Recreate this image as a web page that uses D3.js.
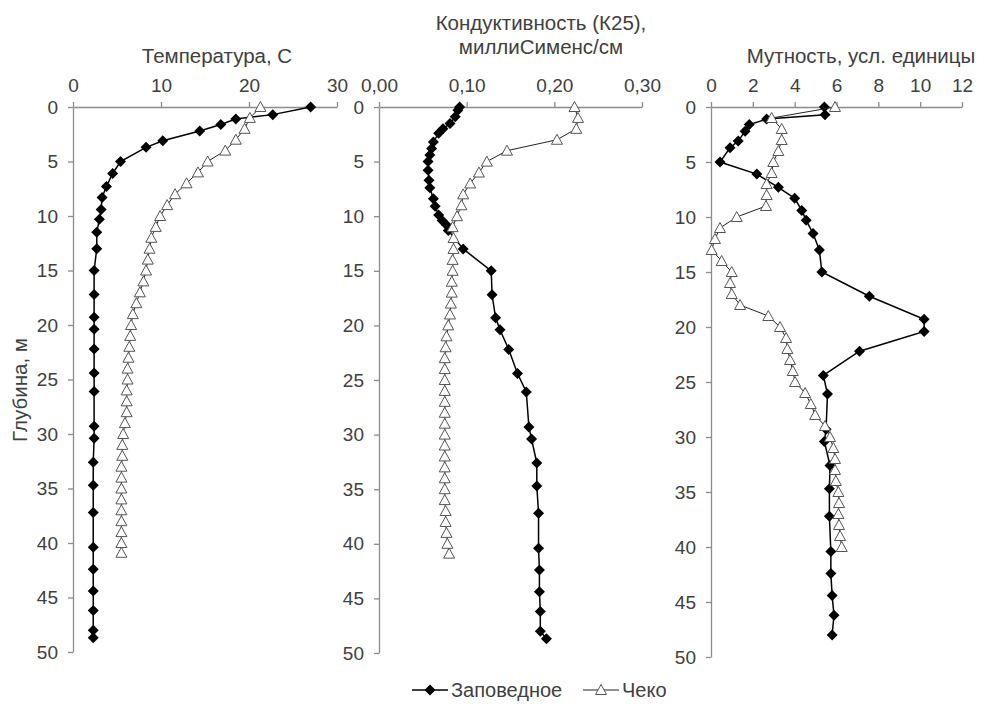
<!DOCTYPE html>
<html>
<head>
<meta charset="utf-8">
<script src="https://cdnjs.cloudflare.com/ajax/libs/d3/7.8.5/d3.min.js"></script>
<style>
  body { margin: 0; background: #fff; }
  svg { font-family: "Liberation Sans", Arial, sans-serif; }
</style>
</head>
<body>
<div id="chart"></div>
<script>
var seriesNames = ["Заповедное", "Чеко"]
var depthTitle = "Глубина, м"
var depthTicks = [0, 5, 10, 15, 20, 25, 30, 35, 40, 45, 50]

// Заповедное: глубины станции (температура)
var zapDepth = [0, 0.7, 1.1, 1.6, 2.2, 3.1, 3.7, 5.0, 6.1, 7.3, 8.3, 9.4, 10.3, 11.5, 13.0, 15.0, 17.2, 19.3, 20.4, 22.2, 24.4, 26.1, 29.3, 30.4, 32.6, 34.7, 37.2, 40.4, 42.4, 44.4, 46.2, 48.0, 48.7]
var zapTemp = [27.0, 22.7, 18.5, 16.8, 14.4, 10.2, 8.3, 5.4, 4.5, 3.8, 3.3, 3.2, 3.0, 2.7, 2.7, 2.4, 2.4, 2.4, 2.4, 2.4, 2.4, 2.4, 2.4, 2.4, 2.3, 2.3, 2.3, 2.3, 2.3, 2.3, 2.3, 2.3, 2.3]

// Заповедное: кондуктивность, сверху измерения чаще
var zapCondDepth = [0, 0.3, 0.9, 1.5, 2.0, 2.4, 3.2, 3.8, 4.4, 5.0, 5.8, 6.7, 7.4, 8.4, 9.1, 9.9, 10.4, 10.8, 11.3, 13.0, 15.0, 17.2, 19.3, 20.4, 22.2, 24.4, 26.1, 29.3, 30.4, 32.6, 34.7, 37.2, 40.4, 42.4, 44.4, 46.2, 48.0, 48.7]
var zapCond = [0.092, 0.090, 0.087, 0.081, 0.073, 0.068, 0.062, 0.060, 0.058, 0.056, 0.056, 0.057, 0.058, 0.062, 0.064, 0.068, 0.072, 0.077, 0.079, 0.096, 0.128, 0.129, 0.133, 0.138, 0.148, 0.158, 0.168, 0.171, 0.174, 0.180, 0.180, 0.182, 0.182, 0.183, 0.183, 0.184, 0.184, 0.191]

// Заповедное: мутность
var zapTurbDepth = [0, 0.7, 1.1, 1.6, 2.2, 3.1, 3.7, 5.0, 6.1, 7.3, 8.3, 9.4, 10.3, 11.5, 13.0, 15.0, 17.2, 19.3, 20.4, 22.2, 24.4, 26.1, 29.3, 30.4, 32.6, 34.7, 37.2, 40.4, 42.4, 44.4, 46.2, 48.0]
var zapTurb = [5.42, 5.45, 2.66, 1.83, 1.63, 1.30, 0.91, 0.43, 2.19, 3.22, 4.00, 4.34, 4.55, 4.88, 5.18, 5.30, 7.57, 10.19, 10.19, 7.10, 5.37, 5.57, 5.50, 5.42, 5.69, 5.66, 5.66, 5.73, 5.73, 5.79, 5.88, 5.79]

// Чеко
var chekoDepth = [0, 1, 2, 3, 4, 5, 6, 7, 8, 9, 10, 11, 12, 13, 14, 15, 16, 17, 18, 19, 20, 21, 22, 23, 24, 25, 26, 27, 28, 29, 30, 31, 32, 33, 34, 35, 36, 37, 38, 39, 40, 40.9]
var chekoTemp = [21.3, 20.1, 19.5, 18.5, 17.3, 15.3, 14.2, 12.9, 11.6, 10.7, 9.9, 9.4, 8.9, 8.7, 8.5, 8.3, 8.0, 7.6, 7.2, 6.8, 6.6, 6.5, 6.4, 6.3, 6.2, 6.2, 6.1, 6.1, 6.1, 5.9, 5.7, 5.6, 5.6, 5.5, 5.5, 5.5, 5.5, 5.5, 5.5, 5.5, 5.5, 5.5]
var chekoCond = [0.223, 0.227, 0.225, 0.203, 0.146, 0.123, 0.114, 0.104, 0.096, 0.094, 0.089, 0.084, 0.085, 0.085, 0.084, 0.084, 0.083, 0.083, 0.082, 0.081, 0.079, 0.077, 0.076, 0.075, 0.075, 0.075, 0.075, 0.075, 0.075, 0.075, 0.075, 0.075, 0.075, 0.075, 0.075, 0.075, 0.075, 0.076, 0.076, 0.077, 0.078, 0.080]
var chekoTurbDepth = [0, 1, 2, 3, 4, 5, 6, 7, 8, 9, 10, 11, 12, 13, 14, 15, 16, 17, 18, 19, 20, 21, 22, 23, 24, 25, 26, 27, 28, 29, 30, 31, 32, 33, 34, 35, 36, 37, 38, 39, 40]
var chekoTurb = [5.93, 2.90, 3.38, 3.38, 3.22, 2.98, 2.90, 2.66, 2.66, 2.63, 1.23, 0.43, 0.19, 0.03, 0.51, 0.99, 0.91, 0.99, 1.39, 2.74, 3.30, 3.59, 3.65, 3.78, 3.91, 4.02, 4.50, 4.77, 4.98, 5.45, 5.69, 5.85, 5.93, 5.93, 5.97, 6.09, 6.12, 6.09, 6.12, 6.17, 6.25]

var titles = [["Температура, С"], ["Кондуктивность (К25),", "миллиСименс/см"], ["Мутность, усл. единицы"]]
var tempTicks = [0, 10, 20, 30]
var condTicks = [0, 0.1, 0.2, 0.3]
var turbTicks = [0, 2, 4, 6, 8, 10, 12]

var W = 987, H = 706
var svg = d3.select("#chart").append("svg").attr("width", W).attr("height", H)

var panels = [
	{ x0: 73, x1: 337, y1: 652, ticks: tempTicks, fmt: d3.format("d"), titleX: 217, titleY: [63],
	  zap: [zapDepth, zapTemp], cheko: [chekoDepth, chekoTemp] },
	{ x0: 379, x1: 642, y1: 653, ticks: condTicks, fmt: function(v){ return d3.format(".2f")(v).replace(".", ",") }, titleX: 541, titleY: [30, 54],
	  zap: [zapCondDepth, zapCond], cheko: [chekoDepth, chekoCond] },
	{ x0: 711, x1: 962, y1: 657, ticks: turbTicks, fmt: d3.format("d"), titleX: 861, titleY: [63],
	  zap: [zapTurbDepth, zapTurb], cheko: [chekoTurbDepth, chekoTurb] }
]

var diamond = "M0,-5.5L5.5,0L0,5.5L-5.5,0Z"
var triangle = "M0,-5.5L5.5,4.5L-5.5,4.5Z"

function pairs(s) { return s[0].map(function(d, i){ return [d, s[1][i]] }) }

panels.forEach(function(p, pi) {
	var x = d3.scaleLinear().domain(d3.extent(p.ticks)).range([p.x0, p.x1])
	var y = d3.scaleLinear().domain([0, 50]).range([107, p.y1])
	var g = svg.append("g")

	var xAxis = g.append("g").attr("transform", "translate(0,107)")
		.call(d3.axisTop(x).tickValues(p.ticks).tickFormat(p.fmt).tickSize(5).tickSizeOuter(0).tickPadding(10))
	var yAxis = g.append("g").attr("transform", "translate(" + p.x0 + ",0)")
		.call(d3.axisLeft(y).tickValues(depthTicks).tickSize(5).tickSizeOuter(0).tickPadding(10))
	;[xAxis, yAxis].forEach(function(a) {
		a.select(".domain").attr("stroke", "#8c8c8c").attr("stroke-width", 1.3)
		a.selectAll(".tick line").attr("stroke", "#8c8c8c").attr("stroke-width", 1.3)
		a.selectAll(".tick text").attr("fill", "#404040").style("font-size", "19px")
	})

	titles[pi].forEach(function(t, i) {
		g.append("text").attr("x", p.titleX).attr("y", p.titleY[i]).attr("text-anchor", "middle")
			.attr("fill", "#404040").style("font-size", "20.5px").text(t)
	})

	var line = d3.line().x(function(d){ return x(d[1]) }).y(function(d){ return y(d[0]) })
	var zp = pairs(p.zap), ck = pairs(p.cheko)

	g.append("path").datum(zp).attr("d", line).attr("fill", "none").attr("stroke", "#000").attr("stroke-width", 1.5)
	g.selectAll(".zap").data(zp).enter().append("path").attr("class", "zap")
		.attr("transform", function(d){ return "translate(" + x(d[1]) + "," + y(d[0]) + ")" })
		.attr("d", diamond).attr("fill", "#000")

	g.append("path").datum(ck).attr("d", line).attr("fill", "none").attr("stroke", "#222").attr("stroke-width", 1)
	g.selectAll(".cheko").data(ck).enter().append("path").attr("class", "cheko")
		.attr("transform", function(d){ return "translate(" + x(d[1]) + "," + y(d[0]) + ")" })
		.attr("d", triangle).attr("fill", "#fff").attr("stroke", "#555").attr("stroke-width", 1)
})

svg.append("text").attr("transform", "translate(27,390) rotate(-90)").attr("text-anchor", "middle")
	.attr("fill", "#404040").style("font-size", "20.5px").text(depthTitle)

// легенда
var legend = svg.append("g").attr("transform", "translate(0,690)")
var legendX = [412, 583]
seriesNames.forEach(function(name, i) {
	var lx = legendX[i]
	legend.append("line").attr("x1", lx).attr("x2", lx + 36).attr("stroke", i ? "#222" : "#000").attr("stroke-width", i ? 1 : 1.5)
	legend.append("path").attr("transform", "translate(" + (lx + 18) + ",0)")
		.attr("d", i ? triangle : diamond).attr("fill", i ? "#fff" : "#000").attr("stroke", i ? "#555" : "none")
	legend.append("text").attr("x", lx + 39).attr("y", 7).attr("fill", "#404040").style("font-size", "20px").text(name)
})
</script>
</body>
</html>
